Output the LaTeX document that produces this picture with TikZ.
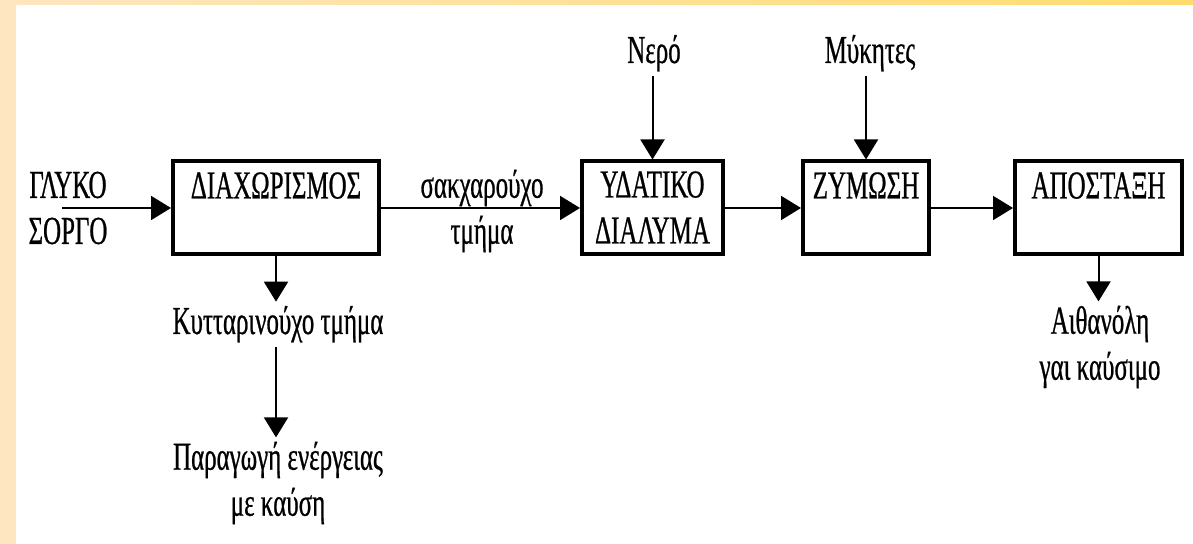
\documentclass[tikz,border=0pt]{standalone}
\usepackage{fontspec}
\setmainfont[FakeStretch=0.63,FakeBold=0.6]{Liberation Serif}
\usetikzlibrary{
  arrows.meta,
  positioning
}
\definecolor{peach}{HTML}{FDE6C0}
\definecolor{sunny}{HTML}{FFDC6E}
\tikzset{
  stage/.style={
    draw,
    line width=2pt,
    align=center,
    minimum height=0pt,
    inner xsep=2pt,
    inner ysep=5.5pt,
    text height=13pt,
    text depth=22.5pt
  },
  flow/.style={
    draw,
    line width=1pt,
    -{Triangle[length=10pt,width=12pt]}
  },
  tag/.style={
    align=center,
    inner sep=2pt
  }
}

\begin{document}
\begin{tikzpicture}[
    x=0.5pt,
    y=-0.5pt,
    font=\fontsize{19.8pt}{23pt}\selectfont
  ]
  \useasboundingbox (0,0) rectangle (1193,544);
  \fill[white] (0,0) rectangle (1193,544);
  \fill[peach] (0,0) rectangle (16,544);
  \shade[left color=peach, right color=sunny] (16,0) rectangle (1193,5);

  \node[stage, minimum width=103pt] (sep) at (276,208) {ΔΙΑΧΩΡΙΣΜΟΣ};
  \node[stage, minimum width=70.5pt, text height=35.5pt, text depth=0pt] (sol) at (652.5,208) {ΥΔΑΤΙΚΟ\\ΔΙΑΛΥΜΑ};
  \node[stage, minimum width=63pt] (ferm) at (866,208) {ΖΥΜΩΣΗ};
  \node[stage, minimum width=83.5pt] (dist) at (1098.5,208) {ΑΠΟΣΤΑΞΗ};

  \node[tag] (sorghum) at (68,208) {ΓΛΥΚΟ\\ΣΟΡΓΟ};
  \coordinate (feed) at (62,208);
  \node[tag] (sugar) at (482,211) {σακχαρούχο\\τμήμα};
  \node[tag, anchor=base] (water) at (654,63) {Νερό};
  \node[tag, anchor=base] (fungi) at (870,63) {Μύκητες};
  \node[tag, anchor=base] (cell) at (278,334) {Κυτταρινούχο τμήμα};
  \node[tag] (energy) at (278,483) {Παραγωγή ενέργειας\\με καύση};
  \node[tag] (ethanol) at (1100,347) {Αιθανόλη\\γαι καύσιμο};

  \draw[flow] (feed) -- (sep.west);
  \draw[flow] (sep.east) -- (sol.west);
  \draw[flow] (sol.east) -- (ferm.west);
  \draw[flow] (ferm.east) -- (dist.west);
  \draw[flow] (sol.north |- water.south) -- (sol.north);
  \draw[flow] (ferm.north |- fungi.south) -- (ferm.north);
  \draw[flow] (sep.south) -- (sep.south |- cell.north);
  \draw[flow] (sep.south |- cell.south) -- (sep.south |- energy.north);
  \draw[flow] (dist.south) -- (dist.south |- ethanol.north);
\end{tikzpicture}
\end{document}
